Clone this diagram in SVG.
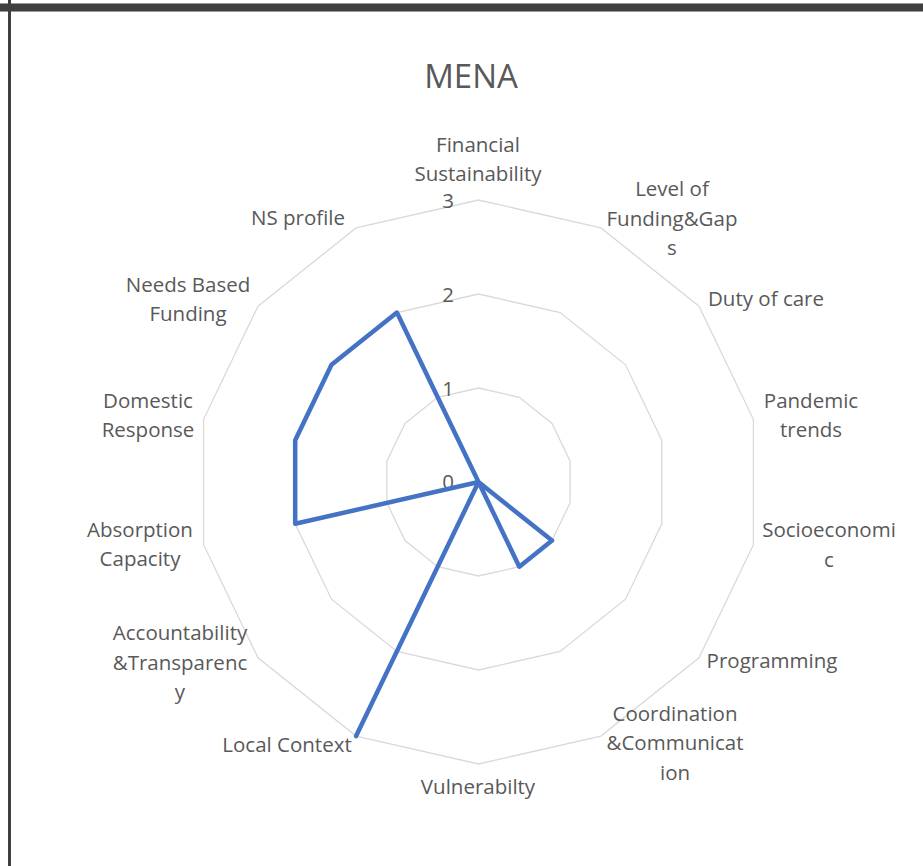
<svg xmlns="http://www.w3.org/2000/svg" width="923" height="866" viewBox="0 0 923 866">
<style>
.lbl{font-family:"Open Sans","Noto Sans",sans-serif;font-size:20.5px;fill:#595959;text-anchor:middle}
.tick{font-family:"Open Sans","Noto Sans",sans-serif;font-size:20.5px;fill:#595959;text-anchor:middle}
.title{font-family:"Open Sans","Noto Sans",sans-serif;font-size:33px;fill:#595959;text-anchor:middle}
.grid{fill:none;stroke:#d9d9d9;stroke-width:1.3}
.series{fill:none;stroke:#4472c4;stroke-width:4.5;stroke-linejoin:round;stroke-linecap:round}
</style>
<rect x="0" y="0" width="923" height="866" fill="#ffffff"/>
<g id="frame">
<rect x="0" y="3" width="923" height="9" fill="#9a9a9a"/>
<rect x="0" y="4" width="923" height="7" fill="#404040"/>
<rect x="8" y="0" width="3" height="866" fill="#404040"/>
</g>
<text class="title" x="471" y="88">MENA</text>
<g id="gridlines">
<polygon class="grid" points="478.5,388 519.3,397.3 552,423.4 570.1,461.1 570.1,502.9 552,540.6 519.3,566.7 478.5,576 437.7,566.7 405,540.6 386.9,502.9 386.9,461.1 405,423.4 437.7,397.3"/>
<polygon class="grid" points="478.5,294 560.1,312.6 625.5,364.8 661.8,440.2 661.8,523.8 625.5,599.2 560.1,651.4 478.5,670 396.9,651.4 331.5,599.2 295.2,523.8 295.2,440.2 331.5,364.8 396.9,312.6"/>
<polygon class="grid" points="478.5,200 600.9,227.9 699,306.2 753.4,419.3 753.4,544.7 699,657.8 600.9,736.1 478.5,764 356.1,736.1 258,657.8 203.6,544.7 203.6,419.3 258,306.2 356.1,227.9"/>
</g>
<g id="ticks">
<text class="tick" x="448" y="489">0</text>
<text class="tick" x="448" y="396">1</text>
<text class="tick" x="448" y="302">2</text>
<text class="tick" x="448" y="208">3</text>
</g>
<g id="connectors">
<polyline class="series" points="478.5,482 552,540.6 519.3,566.7 478.5,482 356.1,736.1 478.5,482 295.2,523.8 295.2,440.2 331.5,364.8 396.9,312.6 478.5,482"/>
</g>
<g id="financial-sustainability"><text class="lbl" x="478" y="152">Financial</text><text class="lbl" x="478" y="181">Sustainability</text></g>
<g id="level-of-funding"><text class="lbl" x="672" y="196">Level of</text><text class="lbl" x="672" y="226">Funding&amp;Gap</text><text class="lbl" x="672" y="255">s</text></g>
<g id="duty-of-care"><text class="lbl" x="766" y="306">Duty of care</text></g>
<g id="pandemic-trends"><text class="lbl" x="811" y="408">Pandemic</text><text class="lbl" x="811" y="437">trends</text></g>
<g id="socioeconomic"><text class="lbl" x="829" y="537">Socioeconomi</text><text class="lbl" x="829" y="567">c</text></g>
<g id="programming"><text class="lbl" x="772" y="668">Programming</text></g>
<g id="coordination"><text class="lbl" x="675" y="721">Coordination</text><text class="lbl" x="675" y="750">&amp;Communicat</text><text class="lbl" x="675" y="780">ion</text></g>
<g id="vulnerability"><text class="lbl" x="478" y="794">Vulnerabilty</text></g>
<g id="local-context"><text class="lbl" x="287" y="752">Local Context</text></g>
<g id="accountability"><text class="lbl" x="180" y="640">Accountability</text><text class="lbl" x="180" y="670">&amp;Transparenc</text><text class="lbl" x="180" y="699">y</text></g>
<g id="absorption-capacity"><text class="lbl" x="140" y="537">Absorption</text><text class="lbl" x="140" y="566">Capacity</text></g>
<g id="domestic-response"><text class="lbl" x="148" y="408">Domestic</text><text class="lbl" x="148" y="437">Response</text></g>
<g id="needs-based-funding"><text class="lbl" x="188" y="292">Needs Based</text><text class="lbl" x="188" y="321">Funding</text></g>
<g id="ns-profile"><text class="lbl" x="298" y="225">NS profile</text></g>
</svg>
